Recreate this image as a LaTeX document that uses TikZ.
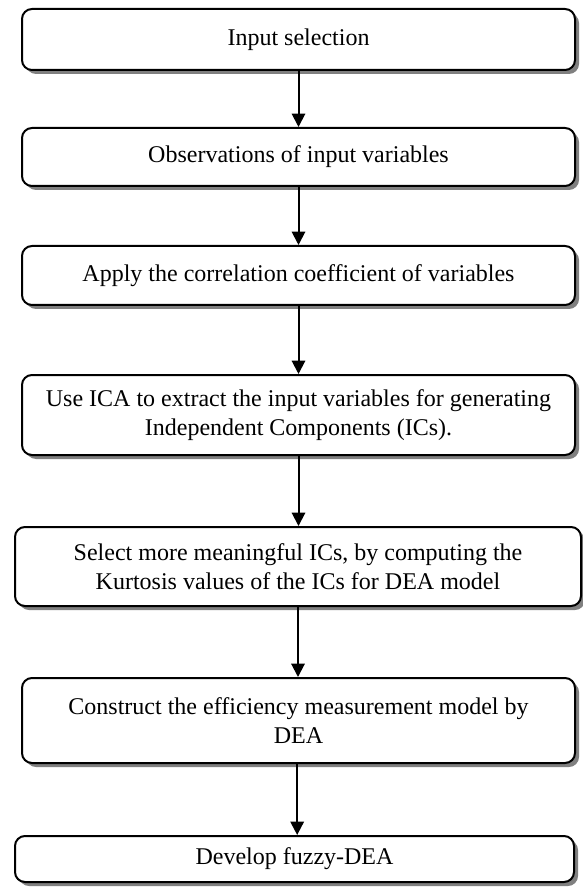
\documentclass[tikz,border=0pt]{standalone}
\usepackage{fontspec}
\setmainfont{Liberation Serif}
\usetikzlibrary{arrows.meta,shadows}

\begin{document}
\begin{tikzpicture}[
  x=0.75pt, y=-0.75pt,
  proc/.style={draw, line width=1.5pt, rounded corners=7.5pt, fill=white,
    align=center, inner sep=0pt, minimum width=\W*0.75pt,
    font=\fontsize{18}{22}\selectfont,
    drop shadow={shadow xshift=3pt, shadow yshift=-3pt, fill=black!50, opacity=1}},
  flow/.style={-{Triangle[length=10pt,width=10pt]}, line width=1.5pt},
]

\def\W{553}   % box width (px)
\def\X{298.5} % column centre (px)

\useasboundingbox (0,0) rectangle (582,887);

% ── Steps ──
\node[proc, minimum height=61*0.75pt] (sel) at (\X, 39.5) {Input selection};
\node[proc, minimum height=58*0.75pt] (obs) at (\X, 157) {Observations of input variables};
\node[proc, minimum height=59*0.75pt] (cor) at (\X, 275.5) {Apply the correlation coefficient of variables};
\node[proc, minimum height=80*0.75pt] (ica) at (\X, 415)
  {Use ICA to extract the input variables for generating\\Independent Components (ICs).};
\node[proc, minimum height=79*0.75pt, minimum width=566*0.75pt] (kur) at (298, 566.5)
  {Select more meaningful ICs, by computing the\\Kurtosis values of the ICs for DEA model};
\node[proc, minimum height=85*0.75pt] (dea) at (\X, 720.5)
  {Construct the efficiency measurement model by\\DEA};
\node[proc, minimum height=46*0.75pt, minimum width=559*0.75pt] (fuz) at (294.5, 859) {Develop fuzzy-DEA};

% ── Arrows ──
\foreach \a/\b in {sel/obs, obs/cor, cor/ica, ica/kur, kur/dea}
  \draw[flow] (\a.south) -- (\a.south |- \b.north);
\draw[flow] ([xshift=-1pt]dea.south) -- ([xshift=-1pt]dea.south |- fuz.north);

\end{tikzpicture}
\end{document}
